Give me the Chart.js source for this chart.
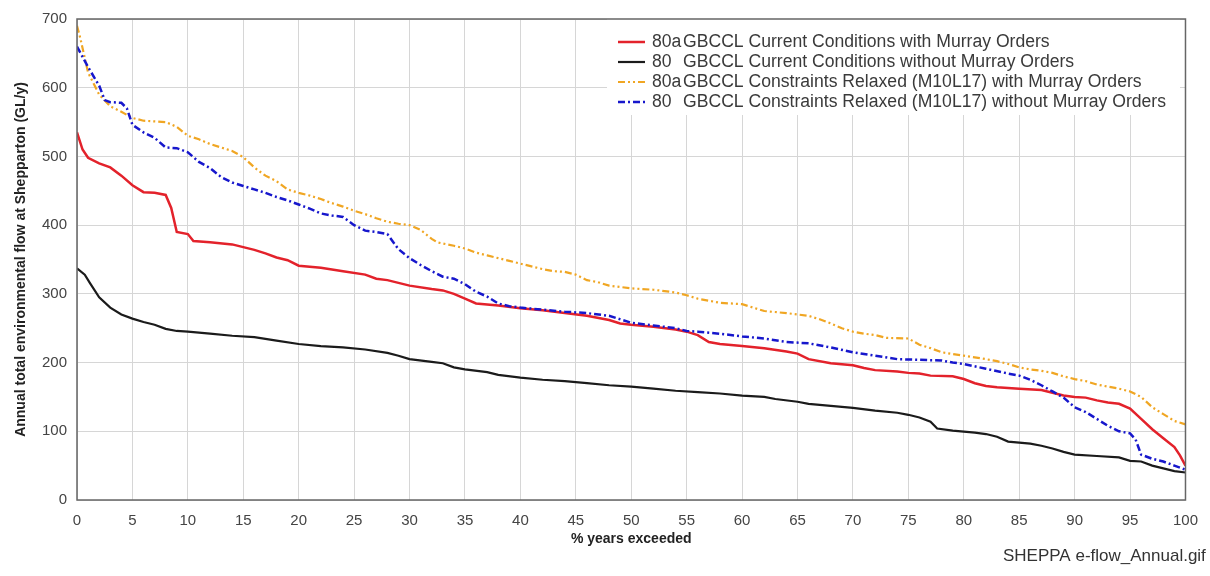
<!DOCTYPE html>
<html>
<head>
<meta charset="utf-8">
<script src="https://cdn.jsdelivr.net/npm/chart.js@4"></script>
<style>
  html, body { margin: 0; padding: 0; background: #fff; }
  #wrap { width: 1210px; height: 576px; overflow: hidden; }
</style>
</head>
<body>
<div id="wrap"><canvas id="myChart" width="1210" height="576"></canvas></div>
<script>
// tick values
const xTicks = [0, 100, 5];
const yTicks = [0, 700, 100];

const legendPrefix = ['80a', '80', '80a', '80'];
const legendText = [
  'GBCCL Current Conditions with Murray Orders',
  'GBCCL Current Conditions without Murray Orders',
  'GBCCL Constraints Relaxed (M10L17) with Murray Orders',
  'GBCCL Constraints Relaxed (M10L17) without Murray Orders'
];

// [% years exceeded, GL/y]
const currentWithMO = [[0,535],[0.5,510],[1,498],[2,490],[3,484],[4,472],[5,458],[6,448],[7,447],[8,444],[8.5,425],[9,390],[10,387],[10.5,377],[12,375],[14,372],[15,368],[16,364],[17,359],[18,353],[19,349],[20,341],[22,338],[24,333],[26,328],[27,322],[28,320],[29,316],[30,312],[32,307],[33,305],[34,300],[35,293],[36,286],[38,283],[40,279],[42,276],[44,272],[46,268],[48,262],[49,257],[50,255],[52,252],[54,248],[55,245],[56,240],[57,230],[58,227],[60,224],[62,221],[64,216],[65,213],[66,205],[68,199],[70,196],[71,192],[72,189],[74,187],[75,185],[76,184],[77,181],[79,180],[80,176],[81,170],[82,166],[83,164],[85,162],[87,160],[88,156],[89,152],[90,150],[91,149],[92,145],[93,142],[94,140],[95,133],[96,118],[97,103],[98,90],[99,77],[99.5,65],[100,50]];

const currentNoMO = [[0,337],[0.7,328],[1.2,315],[2,295],[3,280],[4,270],[5,264],[6,259],[7,255],[8,249],[9,246],[10,245],[12,242],[14,239],[16,237],[18,232],[20,227],[22,224],[24,222],[26,219],[28,214],[29,210],[30,205],[32,201],[33,199],[34,193],[35,190],[37,186],[38,182],[40,178],[42,175],[44,173],[46,170],[48,167],[50,165],[52,162],[54,159],[56,157],[58,155],[60,152],[62,150],[63,147],[65,143],[66,140],[68,137],[70,134],[72,130],[74,127],[75,124],[76,120],[77,114],[77.6,104],[79,101],[81,98],[82,96],[83,92],[84,85],[86,82],[87,79],[88,75],[89,70],[90,66],[92,64],[94,62],[95,57],[96,56],[97,50],[98,46],[99,42],[100,40]];

const relaxedWithMO = [[0,690],[0.3,672],[1,622],[2,590],[3,573],[4,565],[5,556],[6,552],[7,551],[8,550],[9,543],[10,530],[11,525],[12,518],[14,508],[15,499],[16,484],[17,472],[18,464],[19,452],[20,447],[21,443],[22,438],[23,432],[24,427],[25,421],[26,416],[27,410],[28,405],[29,402],[30,400],[31,393],[32,380],[32.5,375],[34,370],[35,366],[36,360],[37,356],[38,352],[39,348],[40,344],[41,340],[42,336],[43,333],[44,332],[45,328],[46,320],[47,317],[48,312],[50,308],[52,306],[54,302],[55,298],[56,293],[57,290],[58,287],[60,285],[61,280],[62,275],[64,272],[66,268],[67,263],[68,257],[69,250],[70,245],[71,242],[72,240],[73,236],[75,235],[76,226],[77,221],[78,215],[80,210],[82,205],[83,202],[84,198],[85,193],[86,190],[87,188],[88,185],[89,180],[90,176],[91,173],[92,168],[93,165],[94,162],[95,158],[96,150],[97,135],[98,125],[99,115],[100,110]];

const relaxedNoMO = [[0,660],[1,630],[2,603],[2.5,582],[3,579],[4,578],[4.5,570],[5,546],[6,535],[7,527],[8,513],[9,512],[10,506],[11,492],[12,483],[13,470],[14,462],[15,457],[16,452],[17,447],[18,441],[19,436],[20,430],[21,424],[22,417],[23,414],[24,412],[25,400],[26,392],[27,390],[28,387],[29,365],[30,352],[31,342],[32,333],[33,325],[34,322],[35,314],[36,303],[37,296],[38,286],[39,282],[40,280],[42,277],[44,274],[46,272],[48,268],[50,258],[52,254],[54,250],[55,246],[56,245],[58,242],[60,238],[62,235],[64,230],[66,228],[68,222],[70,215],[72,210],[74,205],[76,204],[78,203],[79,200],[80,198],[82,191],[84,184],[85,181],[86,175],[87,167],[88,158],[89,149],[90,135],[91,128],[92,118],[93,108],[94,100],[95,97],[95.5,88],[96,66],[97,60],[98,56],[99,50],[100,44]];

const toPts = arr => arr.map(p => ({x: p[0], y: p[1]}));

const series = [
  {data: currentWithMO, color: '#e3222b', dash: [], width: 2.5, order: 2},
  {data: currentNoMO, color: '#1b1b1b', dash: [], width: 2.2, order: 3},
  {data: relaxedWithMO, color: '#f0a623', dash: [7, 3, 2, 3, 2, 3], width: 2.2, order: 1},
  {data: relaxedNoMO, color: '#1717cc', dash: [7, 3, 2, 3], width: 2.5, order: 0}
];

const frameAndLegend = {
  id: 'frameAndLegend',
  beforeDatasetsDraw(chart) {
    const c = chart.ctx;
    c.save();
    c.fillStyle = '#fff';
    c.fillRect(607, 17, 573, 98);
    c.restore();
  },
  afterDatasetsDraw(chart) {
    const c = chart.ctx;
    const a = chart.chartArea;
    c.save();
    c.strokeStyle = '#666';
    c.lineWidth = 1.5;
    c.strokeRect(a.left, a.top, a.right - a.left, a.bottom - a.top);

    c.font = '17.6px "Liberation Sans", Arial, sans-serif';
    c.textBaseline = 'middle';
    series.forEach((s, i) => {
      const y = 42 + i * 20;
      c.strokeStyle = s.color;
      c.lineWidth = s.width;
      c.setLineDash(s.dash);
      c.beginPath();
      c.moveTo(618, y);
      c.lineTo(645, y);
      c.stroke();
      c.setLineDash([]);
      c.fillStyle = '#3a3a3a';
      c.fillText(legendPrefix[i], 652, y);
      c.fillText(legendText[i], 683, y);
    });

    c.font = '17px "Liberation Sans", Arial, sans-serif';
    c.fillStyle = '#333';
    c.fillText('SHEPPA e-flow_Annual.gif', 1003, 556);
    c.restore();
  }
};

new Chart('myChart', {
  type: 'line',
  data: {
    datasets: series.map((s, i) => ({
      label: legendPrefix[i] + ' ' + legendText[i],
      data: toPts(s.data),
      borderColor: s.color,
      borderWidth: s.width,
      borderDash: s.dash,
      pointRadius: 0,
      tension: 0,
      fill: false,
      order: s.order
    }))
  },
  options: {
    responsive: false,
    animation: false,
    layout: {padding: {left: 0, top: 16, right: 23, bottom: 0}},
    plugins: {legend: {display: false}, tooltip: {enabled: false}},
    scales: {
      x: {
        type: 'linear',
        min: xTicks[0], max: xTicks[1],
        afterFit: s => { s.height = 76; },
        grid: {color: '#d6d6d6', drawTicks: false},
        border: {display: false},
        ticks: {stepSize: xTicks[2], padding: 12, color: '#444', font: {family: '"Liberation Sans", Arial', size: 15}},
        title: {display: true, text: '% years exceeded', color: '#222', padding: {top: 0, bottom: 28},
          font: {family: '"Liberation Sans", Arial', size: 14, weight: 'bold'}}
      },
      y: {
        min: yTicks[0], max: yTicks[1],
        afterFit: s => { s.width = 77; },
        grid: {color: '#d6d6d6', drawTicks: false},
        border: {display: false},
        ticks: {stepSize: yTicks[2], padding: 10, color: '#444', font: {family: '"Liberation Sans", Arial', size: 15}},
        title: {display: true, text: 'Annual total environmental flow at Shepparton (GL/y)', color: '#222', padding: {top: 13, bottom: 0},
          font: {family: '"Liberation Sans", Arial', size: 14, weight: 'bold'}}
      }
    }
  },
  plugins: [frameAndLegend]
});
</script>
</body>
</html>
